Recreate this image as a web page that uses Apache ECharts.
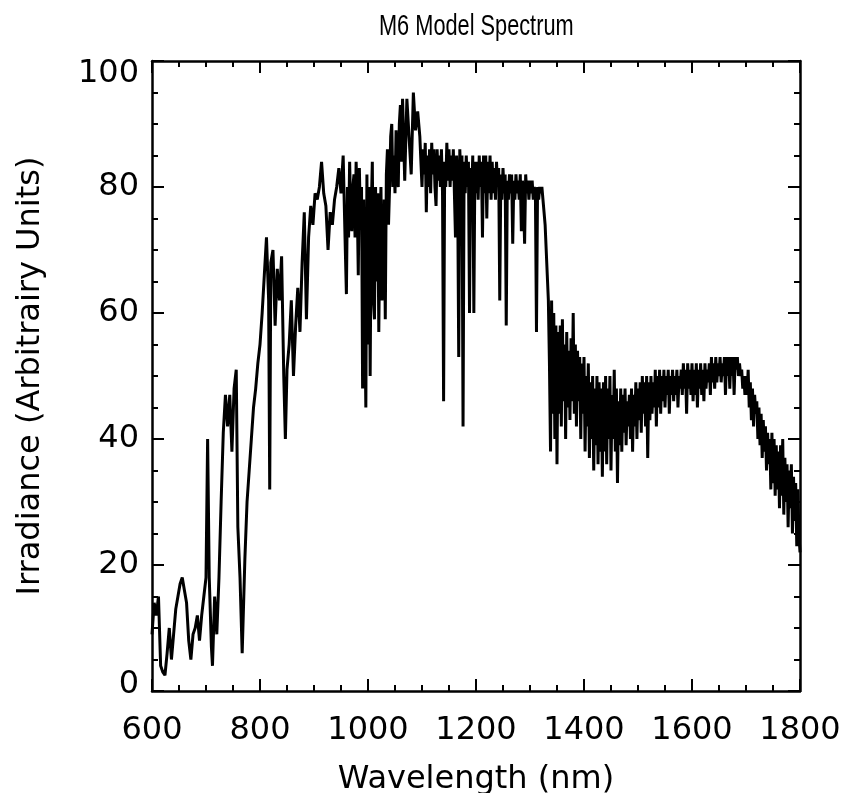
<!DOCTYPE html>
<html>
<head>
<meta charset="utf-8">
<script src="https://cdn.jsdelivr.net/npm/echarts@6/dist/echarts.min.js"></script>
<style>
html,body{margin:0;padding:0;background:#fff;}
#chart{width:846px;height:793px;}
</style>
</head>
<body>
<div id="chart"></div>
<script>
const chartTitle = 'M6 Model Spectrum';
const xAxisName = 'Wavelength (nm)';
const yAxisName = 'Irradiance (Arbitrairy Units)';
const xTicks = [600, 800, 1000, 1200, 1400, 1600, 1800];
const yTicks = [0, 20, 40, 60, 80, 100];

// 600-796 nm
const wlA = [600,604,608,612,616,620,624,628,632,636,640,644,648,652,656,660,664,668,672,676,680,684,688,692,696,700,703,706,710,712,716,720,724,728,732,736,740,744,748,752,756,759,763,767,772,776,780,784,788,792,796];
const irrA = [9,14,12,15,4,3,2.5,6,10,5,9,13,15,17,18,16,14,8,5,9,10,12,8,12,15,18,40,18,7,4,15,9,18,30,41,47,42,47,38,48,51,26,18,6,21,30,35,40,45,48,52];

// 800-954 nm
const wlB = [800,804,808,812,816,818,820,824,828,832,836,840,844,847,850,854,858,862,866,870,874,878,882,886,890,894,898,902,906,910,914,918,922,926,930,934,938,942,946,950,954];
const irrB = [55,60,66,72,62,32,68,70,58,67,62,69,50,40,51,55,62,50,58,64,57,68,76,59,72,77,74,79,78,80,84,79,77,70,76,74,78,80,83,79,85];

// 956-1062 nm
const wlC = [956,958,960,962,964,966,968,970,972,974,
976,978,980,982,984,986,988,990,992,994,
996,998,1000,1002,1004,1006,1008,1010,1012,1014,
1016,1018,1020,1022,1024,1026,1028,1030,1032,1034,
1036,1038,1040,1042,1044,1046,1048,1050,1052,1054,
1056,1058,1060,1062];
const irrC = [85,70,63,80,72,84,76,73,80,82,
72,84,78,66,83,74,80,48,78,60,
45,82,55,80,50,76,84,62,59,80,
65,79,57,74,80,62,66,78,59,82,
86,74,80,88,90,80,85,79,89,82,
80,90,93,84];

// 1064-1096 nm
const wlD = [1064,1068,1072,1076,1080,1084,1088,1092,1096];
const irrD = [94,81,94,88,82,95,89,92,88];

// 1100-1198 nm
const wlH = [1100,1102,1104,1106,1108,1110,1112,1114,1116,1118,
1120,1122,1124,1126,1128,1130,1132,1134,1136,1138,
1140,1142,1144,1146,1148,1150,1152,1154,1156,1158,
1160,1162,1164,1166,1168,1170,1172,1174,1176,1178,
1180,1182,1184,1186,1188,1190,1192,1194,1196,1198];
const irrH = [80,86,82,87,76,85,80,86,79,87,
82,86,80,77,86,81,85,80,86,79,
46,84,80,87,81,86,80,85,81,86,
79,72,85,80,53,86,81,85,42,84,
79,85,80,84,60,83,79,85,60,84];

// 1200-1334 nm
const wlI = [1200,1202,1204,1206,1208,1210,1212,1214,1216,1218,
1220,1222,1224,1226,1228,1230,1232,1234,1236,1238,
1240,1242,1244,1246,1248,1250,1252,1254,1256,1258,
1260,1262,1264,1266,1268,1270,1272,1274,1276,1278,
1280,1282,1284,1286,1288,1290,1292,1294,1296,1298,
1300,1302,1304,1306,1308,1310,1312,1314,1316,1318,
1320,1322,1324,1326,1328,1330,1332,1334];
const irrI = [79,84,78,85,80,84,72,85,79,85,
75,84,79,85,78,84,79,83,78,84,
80,83,62,82,78,83,79,82,58,81,
78,82,79,82,71,81,78,82,79,81,
78,82,73,81,78,71,82,79,81,78,
81,79,81,78,80,79,57,80,78,80,
79,80,78,76,74,70,66,62];

// 1336-1600 nm
const wlE = [1336,1338,1340,1342,1344,1346,1348,1350,1352,1354,
1356,1358,1360,1362,1364,1366,1368,1370,1372,1374,
1376,1378,1380,1382,1384,1386,1388,1390,1392,1394,
1396,1398,1400,1402,1404,1406,1408,1410,1412,1414,
1416,1418,1420,1422,1424,1426,1428,1430,1432,1434,
1436,1438,1440,1442,1444,1446,1448,1450,1452,1454,
1456,1458,1460,1462,1464,1466,1468,1470,1472,1474,
1476,1478,1480,1482,1484,1486,1488,1490,1492,1494,
1496,1498,1500,1502,1504,1506,1508,1510,1512,1514,
1516,1518,1520,1522,1524,1526,1528,1530,1532,1534,
1536,1538,1540,1542,1544,1546,1548,1550,1552,1554,
1556,1558,1560,1562,1564,1566,1568,1570,1572,1574,
1576,1578,1580,1582,1584,1586,1588,1590,1592,1594,
1596,1598,1600];
const irrE = [52,38,62,44,60,40,58,36,57,44,
58,42,59,46,55,40,57,45,54,43,
56,46,60,44,55,42,54,46,53,40,
52,44,53,38,50,42,52,37,49,40,
50,35,48,39,50,36,49,38,48,34,
49,38,50,36,48,40,50,35,47,40,
51,38,48,33,46,39,48,38,47,41,
48,39,46,42,47,40,48,38,47,42,
49,40,48,43,49,41,50,44,49,42,
50,37,49,43,50,44,49,45,51,42,
50,45,51,44,50,46,51,45,50,47,
51,44,50,47,51,46,50,47,51,45,
50,48,51,47,52,48,51,44,52,48,
51,47,52];

// 1602-1698 nm
const wlF = [1602,1604,1606,1608,1610,1612,1614,1616,1618,1620,
1622,1624,1626,1628,1630,1632,1634,1636,1638,1640,
1642,1644,1646,1648,1650,1652,1654,1656,1658,1660,
1662,1664,1666,1668,1670,1672,1674,1676,1678,1680,
1682,1684,1686,1688,1690,1692,1694,1696,1698];
const irrF = [46,51,47,52,45,51,48,52,47,51,
46,52,48,51,49,52,47,53,49,52,
48,53,49,52,50,53,49,52,50,53,
47,53,50,53,48,53,50,53,47,53,
51,53,50,52,50,51,48,50,47];

// 1700-1800 nm
const wlG = [1700,1702,1704,1706,1708,1710,1712,1714,1716,1718,
1720,1722,1724,1726,1728,1730,1732,1734,1736,1738,
1740,1742,1744,1746,1748,1750,1752,1754,1756,1758,
1760,1762,1764,1766,1768,1770,1772,1774,1776,1778,
1780,1782,1784,1786,1788,1790,1792,1794,1796,1798,
1800];
const irrG = [50,47,51,45,49,43,48,42,47,44,
46,40,45,39,44,37,43,38,42,35,
41,36,40,32,41,33,40,31,39,32,
38,29,39,31,40,28,37,30,36,26,
35,29,36,25,34,27,33,23,32,25,
22];

const wavelength = [].concat(wlA, wlB, wlC, wlD, wlH, wlI, wlE, wlF, wlG);
const irradiance = [].concat(irrA, irrB, irrC, irrD, irrH, irrI, irrE, irrF, irrG);
const seriesData = wavelength.map((w, i) => [w, irradiance[i]]);

const FONT = 'DejaVu Sans';
const axisLineStyle = { color: '#000', width: 2.5 };

function baseX(extra) {
  return Object.assign({
    type: 'value', min: 600, max: 1800, interval: 200,
    axisLine: { show: true, onZero: false, lineStyle: axisLineStyle },
    axisTick: { show: true, inside: true, length: 12, lineStyle: { color: '#000', width: 2 } },
    minorTick: { show: true, splitNumber: 4, length: 6, lineStyle: { color: '#000', width: 2 } },
    splitLine: { show: false }, minorSplitLine: { show: false }
  }, extra);
}
function baseY(extra) {
  return Object.assign({
    type: 'value', min: 0, max: 100, interval: 20,
    axisLine: { show: true, onZero: false, lineStyle: axisLineStyle },
    axisTick: { show: true, inside: true, length: 12, lineStyle: { color: '#000', width: 2 } },
    minorTick: { show: true, splitNumber: 4, length: 6, lineStyle: { color: '#000', width: 2 } },
    splitLine: { show: false }, minorSplitLine: { show: false }
  }, extra);
}

const chart = echarts.init(document.getElementById('chart'), null, { renderer: 'canvas' });
chart.setOption({
  animation: false,
  backgroundColor: '#fff',
  graphic: [{
    type: 'text', left: 379, top: 12, scaleX: 0.75, scaleY: 1,
    style: { text: chartTitle, font: '29px "Liberation Sans", Arial, sans-serif', fill: '#000' }
  }],
  grid: { left: 152, right: 46, top: 61, bottom: 102, containLabel: false, outerBoundsMode: 'none' },
  xAxis: [
    baseX({
      position: 'bottom',
      name: xAxisName, nameLocation: 'middle', nameGap: 73,
      nameTextStyle: { fontFamily: FONT, fontSize: 32, color: '#000' },
      axisLabel: { show: true, margin: 24, fontFamily: FONT, fontSize: 32, color: '#000',
        formatter: v => xTicks.includes(v) ? String(v) : '' }
    }),
    baseX({ position: 'top', axisLabel: { show: false } })
  ],
  yAxis: [
    baseY({
      position: 'left',
      name: yAxisName, nameLocation: 'middle', nameGap: 105,
      nameTextStyle: { fontFamily: FONT, fontSize: 32, color: '#000' },
      axisLabel: { show: true, margin: 13, fontFamily: FONT, fontSize: 32, color: '#000',
        formatter: v => v === 0 ? '{lo|0}' : (v === 100 ? '{hi|100}' : (yTicks.includes(v) ? String(v) : '')),
        rich: {
          lo: { fontFamily: FONT, fontSize: 32, color: '#000', padding: [0, 0, 12, 0] },
          hi: { fontFamily: FONT, fontSize: 32, color: '#000', padding: [26, 0, 0, 0] }
        }
      }
    }),
    baseY({ position: 'right', axisLabel: { show: false } })
  ],
  series: [{
    type: 'line', data: seriesData, xAxisIndex: 0, yAxisIndex: 0,
    showSymbol: false, symbol: 'none', sampling: 'none',
    lineStyle: { color: '#000', width: 3, join: 'miter', miterLimit: 2 }, clip: true
  }]
});
</script>
</body>
</html>
